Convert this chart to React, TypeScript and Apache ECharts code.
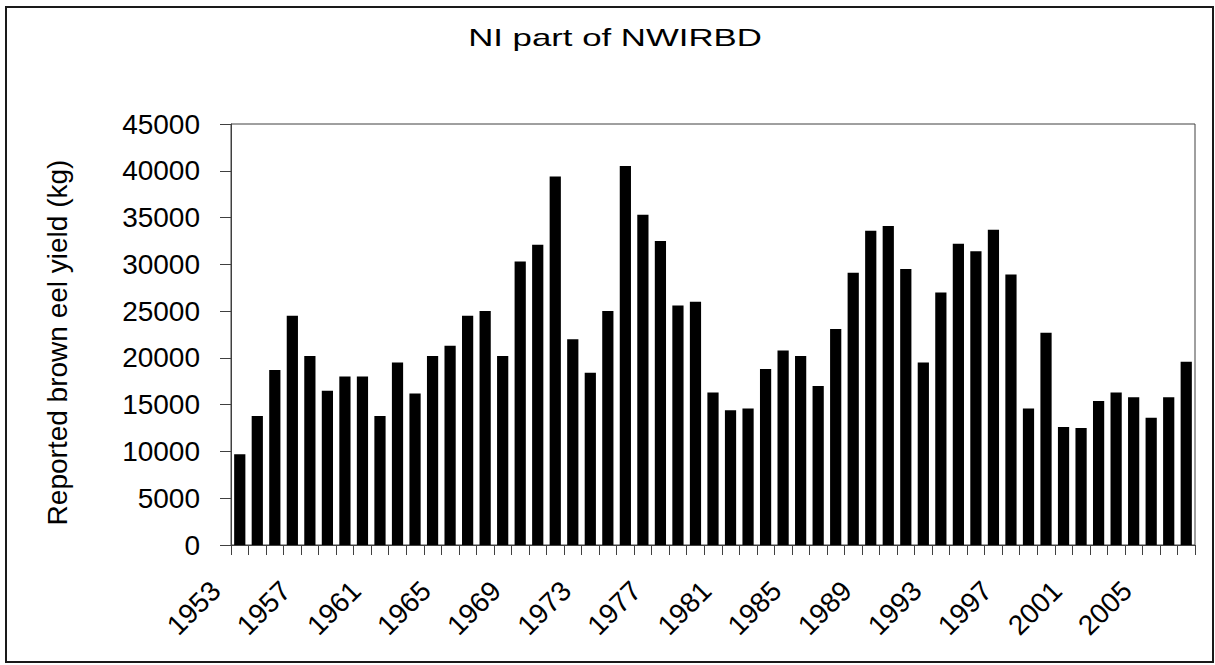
import React, { useEffect, useRef } from "react";
import * as echarts from "echarts";

const years: string[] = [
  "1953","1954","1955","1956","1957","1958","1959","1960","1961","1962",
  "1963","1964","1965","1966","1967","1968","1969","1970","1971","1972",
  "1973","1974","1975","1976","1977","1978","1979","1980","1981","1982",
  "1983","1984","1985","1986","1987","1988","1989","1990","1991","1992",
  "1993","1994","1995","1996","1997","1998","1999","2000","2001","2002",
  "2003","2004","2005","2006","2007",
];

const yieldKg: number[] = [
  9700, 13800, 18700, 24500, 20200, 16500, 18000, 18000, 13800, 19500,
  16200, 20200, 21300, 24500, 25000, 20200, 30300, 32100, 39400, 22000,
  18400, 25000, 40500, 35300, 32500, 25600, 26000, 16300, 14400, 14600,
  18800, 20800, 20200, 17000, 23100, 29100, 33600, 34100, 29500, 19500,
  27000, 32200, 31400, 33700, 28900, 14600, 22700, 12600, 12500, 15400,
  16300, 15800, 13600, 15800, 19600,
];

const titleText = "NI part of NWIRBD";
const yAxisName = "Reported brown eel yield (kg)";

const FONT = "'Liberation Sans', Arial, Helvetica, sans-serif";

export default function App() {
  const ref = useRef<HTMLDivElement>(null);

  useEffect(() => {
    if (!ref.current) return;
    const chart = echarts.init(ref.current, undefined, { renderer: "svg" });
    chart.setOption({
      animation: false,
      backgroundColor: "#ffffff",
      textStyle: { fontFamily: FONT },
      grid: {
        left: 231,
        right: 20,
        top: 124,
        bottom: 120,
        show: true,
        borderColor: "#404040",
        borderWidth: 1,
        containLabel: false,
      },
      graphic: [
        {
          type: "rect",
          shape: { x: 6, y: 7, width: 1207, height: 655 },
          style: { fill: "none", stroke: "#1a1a1a", lineWidth: 2 },
          silent: true,
        },
        {
          type: "text",
          x: 615,
          y: 38,
          scaleX: 1.45,
          style: {
            text: titleText,
            font: `24px ${FONT}`,
            fill: "#000",
            textAlign: "center",
            textVerticalAlign: "middle",
          },
        },
      ],
      xAxis: {
        type: "category",
        data: years,
        boundaryGap: true,
        axisLine: { lineStyle: { color: "#404040", width: 1 } },
        axisTick: { show: true, interval: 0, length: 10, inside: false, lineStyle: { color: "#404040" } },
        axisLabel: {
          interval: 3,
          rotate: 45,
          margin: 17,
          fontSize: 28,
          color: "#000",
          fontFamily: FONT,
          padding: [0, 34, 0, 0],
        },
        splitLine: { show: false },
      },
      yAxis: {
        type: "value",
        min: 0,
        max: 45000,
        interval: 5000,
        name: yAxisName,
        nameLocation: "middle",
        nameGap: 160,
        nameTextStyle: { fontSize: 28, color: "#000", fontFamily: FONT, padding: [0, 16, 0, 0] },
        axisLine: { show: true, lineStyle: { color: "#404040", width: 1 } },
        axisTick: { show: true, length: 11, inside: false, lineStyle: { color: "#404040" } },
        axisLabel: {
          margin: 31,
          fontSize: 28,
          color: "#000",
          fontFamily: FONT,
          formatter: (v: number) => String(v),
        },
        splitLine: { show: false },
      },
      series: [
        {
          type: "bar",
          data: yieldKg,
          barCategoryGap: "36%",
          itemStyle: { color: "#000000" },
        },
      ],
    });
    return () => chart.dispose();
  }, []);

  return (
    <div
      ref={ref}
      style={{ position: "absolute", left: 0, top: 0, width: 1215, height: 665, background: "#fff" }}
    />
  );
}
